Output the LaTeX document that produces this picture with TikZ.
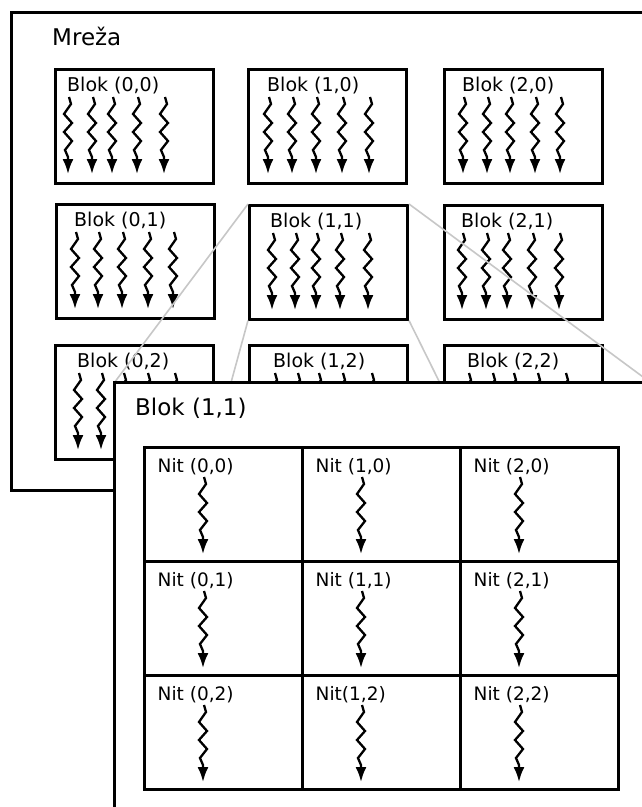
\documentclass[tikz,border=0pt]{standalone}
\usepackage{fontspec}
\setmainfont{DejaVu Sans}
\usetikzlibrary{arrows.meta}

\tikzset{
  frame/.style={draw=black, line width=3pt, fill=white, inner sep=0pt,
                anchor=north west},
  block/.style={frame, minimum width=158pt, minimum height=113.5pt},
  cell/.style={draw=black, line width=3pt, inner sep=0pt, anchor=north west,
               minimum width=158pt, minimum height=114pt},
  bigtext/.style={anchor=base west, inner sep=0pt,
                  font=\fontsize{23}{27}\selectfont},
  blabel/.style={anchor=base west, inner sep=0pt,
                 font=\fontsize{19}{22}\selectfont},
  nlabel/.style={anchor=base west, inner sep=0pt,
                 font=\fontsize{18.5}{22}\selectfont},
  thread/.style={draw=black, line width=2.3pt, line join=miter,
                 -{Latex[length=15pt,width=11pt]}},
  link/.style={draw=black!22, line width=1.6pt},
  squig/.pic={
    \draw[thread] (1,0) -- (3,7) -- (-4,17) -- (4,26) -- (-4,35) -- (4,44)
                  -- (-3,53) -- (0,60) -- (0,77);
  }
}

\begin{document}
\begin{tikzpicture}[x=1pt, y=-1pt]
  \useasboundingbox (0,0) rectangle (641,807);

  % the grid of blocks
  \node[frame, minimum width=634pt, minimum height=478pt] (grid) at (10,11) {};
  \node[bigtext] (lgrid) at (52,45) {Mreža};

  % blocks: column / row / corner / label x / thread positions
  \foreach \i/\j/\x/\y/\lx/\lst in {
      0/0/54/68/67/{68,92,112,137,164},
      1/0/247/68/267/{268,292,316,342,369},
      2/0/443/68/462/{463,487,510,535,560},
      0/1/55/203/74/{75,98,122,148,173},
      1/1/248/204/270/{272,295,316,340,368},
      2/1/443/204/461/{462,486,507,532,559},
      0/2/54/344/77/{78,101,123,147,174},
      1/2/248/344/273/{274,297,318,342,371},
      2/2/443/344/467/{468,492,513,537,565}} {
    \node[block] (b\i\j) at (\x,\y) {};
    \node[blabel] (lb\i\j) at ({\lx},{\y+23}) {Blok (\i,\j)};
    \foreach \ax in \lst {
      \pic at ({\ax},{\y+29}) {squig};
    }
  }

  % corners of the enlarged view of block (1,1)
  \coordinate (zNW) at (114.5,382.5);
  \coordinate (zNE) at (650.5,382.5);
  \coordinate (zSW) at (114.5,808.5);
  \coordinate (zSE) at (650.5,808.5);

  % guide lines from the small block to its enlarged view
  \draw[link] (b11.north west) -- (zNW);
  \draw[link] (b11.north east) -- (zNE);
  \draw[link] (b11.south west) -- (zSW);
  \draw[link] (b11.south east) -- (zSE);

  % the enlarged block
  \node[frame, minimum width=539pt, minimum height=429pt] (big) at (113,381) {};
  \node[bigtext] (lbig) at (135,415) {Blok (1,1)};

  % threads of the block
  \foreach \i in {0,1,2} {
    \foreach \j in {0,1,2} {
      \node[cell] (n\i\j) at ({143+158*\i},{446+114*\j}) {};
      \node[nlabel] (ln\i\j) at ({157.5+158*\i},{472+114*\j})
        {Nit\ifnum\i\j=12 \else\space\fi(\i,\j)};
      \pic at ({203+158*\i},{477+114*\j}) {squig};
    }
  }
\end{tikzpicture}
\end{document}
